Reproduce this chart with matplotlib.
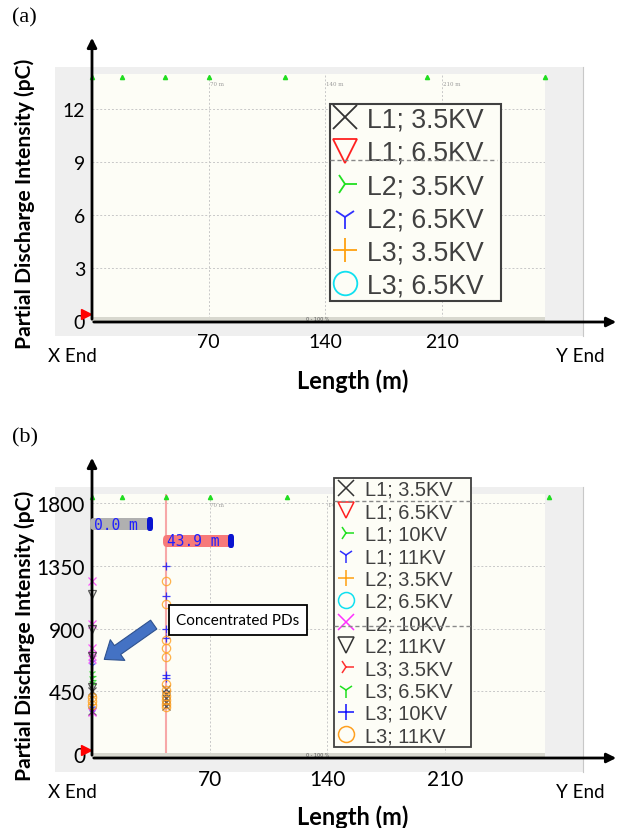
import numpy as np
import matplotlib.pyplot as plt
from matplotlib.lines import Line2D
from matplotlib.patches import Rectangle, FancyArrowPatch, FancyBboxPatch

W, H = 621, 829

# ---- data -------------------------------------------------------------
tick_x = [70, 140, 210]
tick_y_a = [0, 3, 6, 9, 12]
tick_y_b = [0, 450, 900, 1350, 1800]
top_marks_m = [0, 18, 44, 70, 116, 201, 272]

labels_a = ["L1; 3.5KV", "L1; 6.5KV", "L2; 3.5KV", "L2; 6.5KV", "L3; 3.5KV", "L3; 6.5KV"]
markers_a = ["x", "v", "4", "1", "+", "o"]
colors_a = ["#333333", "#ff2020", "#20e020", "#3030ff", "#ffa010", "#10e0f0"]

labels_b = ["L1; 3.5KV", "L1; 6.5KV", "L1; 10KV", "L1; 11KV",
            "L2; 3.5KV", "L2; 6.5KV", "L2; 10KV", "L2; 11KV",
            "L3; 3.5KV", "L3; 6.5KV", "L3; 10KV", "L3; 11KV"]
markers_b = ["x", "v", "4", "1", "+", "o", "x", "v", "4", "1", "+", "o"]
colors_b = ["#333333", "#ff2020", "#20e020", "#3030ff", "#ffa010", "#10e0f0",
            "#ff30ff", "#333333", "#ff3030", "#20e020", "#1010ff", "#ffa020"]

# PD positions (m) and intensities (pC) per series, panel (b)
pos_b = {
    "L1; 3.5KV": [0, 0, 43.9, 43.9, 43.9, 43.9, 43.9],
    "L1; 6.5KV": [],
    "L1; 10KV": [0, 0, 0],
    "L1; 11KV": [0, 0, 0, 0],
    "L2; 3.5KV": [0, 0],
    "L2; 6.5KV": [],
    "L2; 10KV": [0, 0, 0, 0, 0, 0],
    "L2; 11KV": [0, 0, 0, 0],
    "L3; 3.5KV": [],
    "L3; 6.5KV": [0, 0, 0],
    "L3; 10KV": [43.9, 43.9, 43.9, 43.9, 43.9, 43.9],
    "L3; 11KV": [0, 0, 0, 43.9, 43.9, 43.9, 43.9, 43.9, 43.9, 43.9, 43.9, 43.9, 43.9, 43.9],
}
pd_b = {
    "L1; 3.5KV": [450, 310, 470, 430, 400, 370, 345],
    "L1; 6.5KV": [],
    "L1; 10KV": [560, 530, 500],
    "L1; 11KV": [660, 640, 330, 300],
    "L2; 3.5KV": [420, 360],
    "L2; 6.5KV": [],
    "L2; 10KV": [1240, 935, 760, 700, 680, 300],
    "L2; 11KV": [1148, 900, 700, 480],
    "L3; 3.5KV": [],
    "L3; 6.5KV": [580, 545, 510],
    "L3; 10KV": [1346, 1134, 900, 829, 567, 545],
    "L3; 11KV": [410, 380, 350, 1240, 1077, 815, 758, 695, 500, 460, 420, 390, 360, 335],
}
cursor_m = [0.0, 43.9]

# ---- helpers ----------------------------------------------------------
def fx(x):
    return x / W

def fy(y):
    return 1 - y / H

def pbox(x0, y0, x1, y1):
    return [fx(x0), fy(y1), (x1 - x0) / W, (y1 - y0) / H]

fig = plt.figure(figsize=(W / 100, H / 100), dpi=100)
fig.patch.set_facecolor("white")
tfont = "Lato"

def frame(y_top, y_bot, cream_top, axis_y, xmax, ylim, yticks, ylab_c, lbl, tsize, small_m):
    fig.add_artist(Rectangle((fx(55), fy(y_bot)), (583 - 55) / W, (y_bot - y_top) / H,
                             transform=fig.transFigure, facecolor="#efefef",
                             edgecolor="none", zorder=-2))
    fig.add_artist(Line2D([fx(583), fx(583)], [fy(y_top), fy(y_bot)],
                          transform=fig.transFigure, color="#c8c8c8", lw=0.8, zorder=-1))
    ax = fig.add_axes(pbox(92, cream_top, 545, axis_y))
    ax.set_facecolor("#fdfdf6")
    ax.set_xlim(0, xmax)
    ax.set_ylim(*ylim)
    for s in ax.spines.values():
        s.set_visible(False)
    ax.set_xticks(tick_x)
    ax.set_xticklabels([str(t) for t in tick_x], fontsize=tsize, family=tfont)
    ax.set_yticks(yticks)
    ax.set_yticklabels([str(t) for t in yticks], fontsize=tsize, family=tfont)
    ax.tick_params(length=0, axis="y", pad=5)
    ax.tick_params(length=0, axis="x", pad=8)
    ax.grid(True, color="#c8c8c8", ls=(0, (2, 2)), lw=0.7)
    ax.set_axisbelow(True)
    # scroll bar at bottom of the plot area
    fig.add_artist(Rectangle((fx(92), fy(axis_y)), (545 - 92) / W, 5 / H,
                             transform=fig.transFigure, facecolor="#d8d8cf",
                             edgecolor="none", zorder=2))
    fig.text(fx(318), fy(axis_y - 3), "0 - 100 %", fontsize=3.5, color="#555555",
             ha="center", va="center", zorder=3)
    # top markers and small distance labels
    ax.plot(top_marks_m, [ylim[1] - (ylim[1] - ylim[0]) * 0.012] * len(top_marks_m),
            ls="none", marker="^", ms=3, color="#20dd20", clip_on=False)
    for t in small_m:
        ax.text(t + 0.5, ylim[1] - (ylim[1] - ylim[0]) * 0.03, "%d m" % t, fontsize=4,
                color="#999999", ha="left", va="top", family="DejaVu Serif")
    # red start marker
    fig.add_artist(Line2D([fx(86)], [fy(axis_y - 8)], transform=fig.transFigure,
                          marker=">", ms=7, color="#ff0000", ls="none", zorder=4))
    # axes arrows
    fig.add_artist(FancyArrowPatch((fx(92), fy(axis_y)), (fx(92), fy(y_top - 32)),
                                   transform=fig.transFigure, arrowstyle="-|>",
                                   mutation_scale=14, lw=2, color="black", zorder=5))
    fig.add_artist(FancyArrowPatch((fx(91), fy(axis_y)), (fx(619), fy(axis_y)),
                                   transform=fig.transFigure, arrowstyle="-|>",
                                   mutation_scale=14, lw=2, color="black", zorder=5))
    fig.text(fx(72), fy(axis_y + 34), "X End", fontsize=13.5, family=tfont,
             ha="center", va="center")
    fig.text(fx(580), fy(axis_y + 34), "Y End", fontsize=13.5, family=tfont,
             ha="center", va="center")
    fig.text(fx(353), fy(axis_y + 58), "Length (m)", fontsize=17, family=tfont,
             weight="bold", ha="center", va="center")
    fig.text(fx(25), fy(ylab_c), "Partial Discharge Intensity (pC)", fontsize=15.2,
             family=tfont, weight="bold", rotation=90, ha="center", va="center")
    fig.text(fx(12), fy(y_top - 50), lbl, fontsize=16, family="Liberation Serif",
             ha="left", va="center")
    return ax

# ---- panel (a) --------------------------------------------------------
ax_a = frame(68, 337, 75, 323, (545 - 92) / 1.667, (-0.06, 14.0), tick_y_a, 204, "(a)",
             14, [70, 140, 210])
h_a = [Line2D([], [], ls="none", marker=m, color=c, mfc="none", ms=17, mew=1.3)
       for m, c in zip(markers_a, colors_a)]
leg_a = fig.legend(h_a, [s + "  " for s in labels_a], loc="upper left",
                   bbox_to_anchor=(fx(330), fy(105)), bbox_transform=fig.transFigure,
                   prop={"family": "Liberation Sans", "size": 19.2}, labelcolor="#404040",
                   frameon=True, fancybox=False, edgecolor="#404040", facecolor="#fdfdf6",
                   framealpha=1, handlelength=0.92, handletextpad=0.36, labelspacing=0.27,
                   borderpad=0.1, borderaxespad=0)
leg_a.get_frame().set_linewidth(1.5)
fig.add_artist(Line2D([fx(330), fx(497)], [fy(161), fy(161)], transform=fig.transFigure,
                      color="#888888", ls=(0, (3, 2)), lw=1.0, zorder=10))

# ---- panel (b) --------------------------------------------------------
ax_b = frame(488, 773, 495, 759, (545 - 93) / 1.676, (-28, 1865), tick_y_b, 636, "(b)",
             15, [70, 140])
ax_b.axvline(cursor_m[1], color="#f7a8a8", lw=1.5, zorder=1)
for lab, m, c in zip(labels_b, markers_b, colors_b):
    ax_b.plot(pos_b[lab], pd_b[lab], ls="none", marker=m, color=c, mfc="none",
              ms=6, mew=0.9, alpha=0.8, clip_on=False, zorder=3)

h_b = [Line2D([], [], ls="none", marker=m, color=c, mfc="none", ms=11.5, mew=1.1)
       for m, c in zip(markers_b, colors_b)]
leg_b = fig.legend(h_b, [s + "   " for s in labels_b], loc="upper left",
                   bbox_to_anchor=(fx(334), fy(479)), bbox_transform=fig.transFigure,
                   prop={"family": "Liberation Sans", "size": 14.4}, labelcolor="#404040",
                   frameon=True, fancybox=False, edgecolor="#404040", facecolor="#fdfdf6",
                   framealpha=1, handlelength=1.0, handletextpad=0.45, labelspacing=0.17,
                   borderpad=0.1, borderaxespad=0)
leg_b.get_frame().set_linewidth(1.3)
for yy in [502, 627]:
    fig.add_artist(Line2D([fx(334), fx(473)], [fy(yy), fy(yy)], transform=fig.transFigure,
                          color="#888888", ls=(0, (3, 2)), lw=1.0, zorder=10))

# cursor tags
for (x0, x1, yc, face), txt in zip([(90, 153, 525, "#b0b0b0"), (163, 234, 542, "#f77a7a")],
                                   ["%.1f m" % v for v in cursor_m]):
    fig.add_artist(FancyBboxPatch((fx(x0), fy(yc + 6)), (x1 - x0) / W, 12 / H,
                                  boxstyle="round,pad=0,rounding_size=0.006",
                                  transform=fig.transFigure, facecolor=face,
                                  edgecolor="none", zorder=6))
    fig.add_artist(FancyBboxPatch((fx(x1 - 6), fy(yc + 7)), 6 / W, 14 / H,
                                  boxstyle="round,pad=0,rounding_size=0.004",
                                  transform=fig.transFigure, facecolor="#0a14d0",
                                  edgecolor="none", zorder=7))
    fig.text(fx(x0 + 4), fy(yc), txt, fontsize=10.5, family="DejaVu Sans Mono",
             color="#2020ff", ha="left", va="center", zorder=8)

# annotation
fig.text(fx(238), fy(621), "Concentrated PDs", fontsize=11, family=tfont,
         ha="center", va="center", zorder=9,
         bbox=dict(boxstyle="square,pad=0.5", facecolor="white", edgecolor="black", lw=1.3))
fig.add_artist(FancyArrowPatch((fx(156), fy(624)), (fx(102), fy(662)),
                               transform=fig.transFigure,
                               arrowstyle="simple,head_width=1.4,tail_width=0.6,head_length=0.9",
                               mutation_scale=13, facecolor="#4472c4", edgecolor="#2f528f",
                               lw=0.8, zorder=9))

fig.savefig("out.png", dpi=100)
